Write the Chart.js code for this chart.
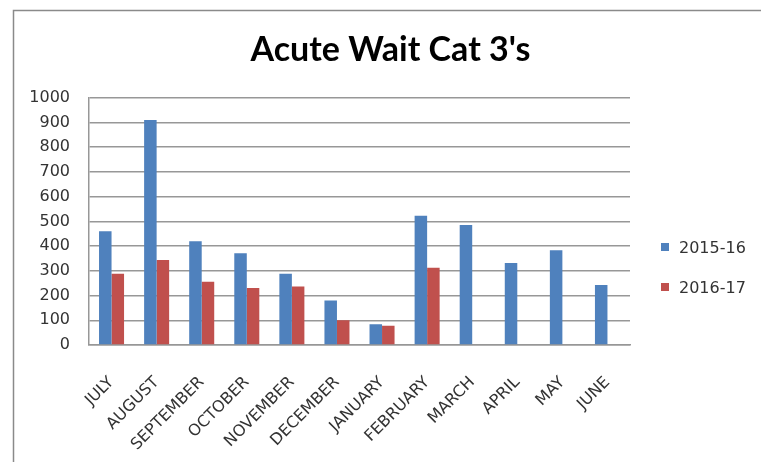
<!DOCTYPE html>
<html>
<head>
<meta charset="utf-8">
<script src="https://cdn.jsdelivr.net/npm/chart.js@4/dist/chart.umd.min.js"></script>
<style>
  html, body { margin: 0; padding: 0; background: #ffffff; }
  #c { display: block; }
</style>
</head>
<body>
<canvas id="c" width="761" height="462"></canvas>
<script>
const chartTitle = "Acute Wait Cat 3's";
const months = ["JULY", "AUGUST", "SEPTEMBER", "OCTOBER", "NOVEMBER", "DECEMBER",
                "JANUARY", "FEBRUARY", "MARCH", "APRIL", "MAY", "JUNE"];
const seriesNames = ["2015-16", "2016-17"];
const values201516 = [460, 910, 420, 371, 288, 180, 84, 523, 485, 332, 383, 243];
const values201617 = [288, 344, 256, 231, 237, 100, 78, 312, null, null, null, null];
const yTicks = [0, 100, 200, 300, 400, 500, 600, 700, 800, 900, 1000];

const BLUE = "#4F81BD";
const RED = "#C0504D";
const GRID = "#979797";
const TEXT = "#333333";
const FONT = "'DejaVu Sans', sans-serif";

const framePlugin = {
  id: "frame",
  beforeDraw(chart) {
    const ctx = chart.ctx;
    ctx.save();
    ctx.fillStyle = "#ffffff";
    ctx.fillRect(0, 0, chart.width, chart.height);
    ctx.strokeStyle = "#8a8a8a";
    ctx.lineWidth = 1.5;
    ctx.beginPath();
    ctx.moveTo(13.5, chart.height);
    ctx.lineTo(13.5, 10.5);
    ctx.lineTo(chart.width, 10.5);
    ctx.stroke();
    ctx.restore();
  }
};

const sideLegendPlugin = {
  id: "sideLegend",
  afterDraw(chart) {
    const ctx = chart.ctx;
    const ys = [249, 289];
    ctx.save();
    chart.data.datasets.forEach((ds, i) => {
      const y = ys[i];
      ctx.fillStyle = ds.backgroundColor;
      ctx.fillRect(661, y - 6, 8, 8);
      ctx.fillStyle = TEXT;
      ctx.font = "16px " + FONT;
      ctx.textAlign = "left";
      ctx.textBaseline = "middle";
      ctx.fillText(ds.label, 679, y);
    });
    ctx.restore();
  }
};

new Chart(document.getElementById("c"), {
  type: "bar",
  data: {
    labels: months,
    datasets: [
      { label: seriesNames[0], data: values201516, backgroundColor: BLUE, borderWidth: 0 },
      { label: seriesNames[1], data: values201617, backgroundColor: RED, borderWidth: 0 }
    ]
  },
  options: {
    responsive: false,
    animation: false,
    devicePixelRatio: 1,
    layout: { padding: { left: 20, right: 0, top: 0, bottom: 0 } },
    datasets: { bar: { categoryPercentage: 0.555, barPercentage: 1.0 } },
    plugins: {
      legend: { display: false },
      tooltip: { enabled: false },
      title: {
        display: true,
        text: chartTitle,
        color: "#000000",
        font: { family: "Lato, 'DejaVu Sans', sans-serif", size: 34, weight: "bold" },
        padding: { top: 30, bottom: 27 }
      }
    },
    scales: {
      x: {
        grid: { display: false, drawTicks: false },
        border: { display: true, color: GRID, width: 1.5 },
        ticks: {
          color: TEXT,
          font: { family: FONT, size: 16 },
          minRotation: 45,
          maxRotation: 45,
          autoSkip: false,
          padding: 28
        },
        afterFit(scale) { scale.height = 117; }
      },
      y: {
        min: 0,
        max: 1000,
        afterBuildTicks(scale) { scale.ticks = yTicks.map(v => ({ value: v })); },
        grid: { color: GRID, lineWidth: 1.5, drawTicks: false },
        border: { display: true, color: GRID, width: 1.5 },
        ticks: {
          color: TEXT,
          font: { family: FONT, size: 16 },
          padding: 19,
          callback: (v) => String(v)
        },
        afterFit(scale) { scale.width = 69; }
      },
      y2: {
        position: "right",
        display: true,
        grid: { display: false, drawTicks: false },
        border: { display: false },
        ticks: { display: false },
        afterFit(scale) { scale.width = 131; }
      }
    }
  },
  plugins: [framePlugin, sideLegendPlugin]
});
</script>
</body>
</html>
